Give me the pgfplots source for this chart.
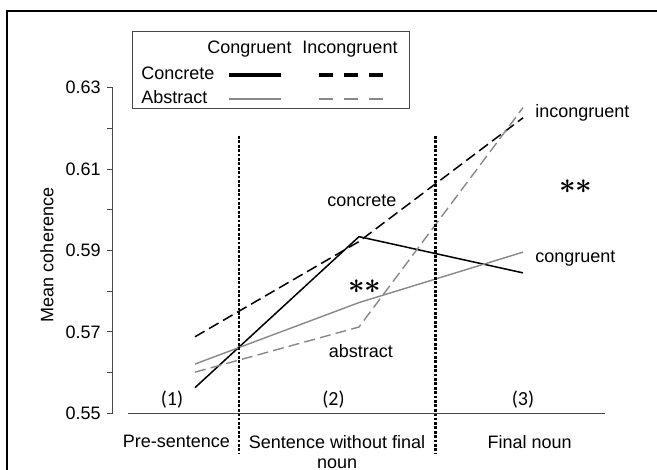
\documentclass[border=0pt]{standalone}
\usepackage{pgfplots}
\pgfplotsset{compat=1.18}
\usepackage{fontspec}
\setmainfont{Liberation Sans}
\newfontfamily\calib{Carlito}
\definecolor{gr}{RGB}{136,136,136}
\definecolor{axc}{RGB}{70,70,70}
\DeclareRobustCommand{\stars}{{\fontsize{14}{16}\selectfont\boldmath$\ast\ast$}}
\begin{document}
\fontsize{9}{11}\selectfont
\begin{tikzpicture}
\begin{axis}[
  scale only axis, width=246pt, height=162.8pt,
  xmin=0.5, xmax=3.5, ymin=0.55, ymax=0.63,
  axis x line=none, axis y line*=left,
  axis line style={-, axc, line width=0.5pt},
  ytick={0.55,0.57,0.59,0.61,0.63},
  minor ytick={0.56,0.58,0.60,0.62},
  tick align=outside, major tick length=3pt, minor tick length=3pt,
  every tick/.style={axc, line width=0.5pt},
  yticklabel style={/pgf/number format/.cd, fixed, fixed zerofill, precision=2, assume math mode=true},
  clip=false,
]
% data
\addplot[black, line width=0.75pt] coordinates {(1,0.5563) (2,0.5934) (3,0.5845)};
\addplot[black, line width=0.75pt, dash pattern=on 5.5pt off 2.6pt] coordinates {(1,0.5688) (2,0.5922) (3,0.6226)};
\addplot[gr, line width=0.7pt] coordinates {(1,0.5621) (2,0.5772) (3,0.5896)};
\addplot[gr, line width=0.7pt, dash pattern=on 5.5pt off 2.6pt] coordinates {(1,0.5601) (2,0.5712) (3,0.6251)};
% dividers
\addplot[black, line width=1.45pt, dash pattern=on 1.35pt off 0.85pt] coordinates {(1.268,0.61813) (1.268,0.54025)};
\addplot[black, line width=1.45pt, dash pattern=on 1.35pt off 0.85pt] coordinates {(2.4665,0.61813) (2.4665,0.54025)};
% x axis line
\draw[axc, line width=0.5pt] (axis cs:0.5915,0.55) -- (axis cs:3.5,0.55);
% annotations
\node at (axis cs:2.018,0.6022) {concrete};
\node at (axis cs:2.012,0.5653) {abstract};
\node at (axis cs:2.034,0.5811) {\stars};
\node at (axis cs:3.323,0.6056) {\stars};
\node[anchor=west, inner sep=0pt] at (axis cs:3.073,0.6238) {incongruent};
\node[anchor=west, inner sep=0pt] at (axis cs:3.073,0.5879) {congruent};
\node at (axis cs:0.860,0.55327) {\calib\fontsize{10}{12}\selectfont (1)};
\node at (axis cs:1.8445,0.55327) {\calib\fontsize{10}{12}\selectfont (2)};
\node at (axis cs:3.0,0.55327) {\calib\fontsize{10}{12}\selectfont (3)};
\node at (axis cs:0.887,0.54302) {Pre-sentence};
\node at (axis cs:1.866,0.54302) {Sentence without final};
\node at (axis cs:1.866,0.5376) {noun};
\node at (axis cs:3.040,0.54302) {Final noun};
\node[rotate=90] at (axis cs:0.0976,0.5889) {Mean coherence};
% legend
\draw[axc, line width=0.5pt] (axis cs:0.6159,0.64369) rectangle (axis cs:2.3049,0.62477);
\node at (axis cs:1.3323,0.63951) {Congruent};
\node at (axis cs:1.9451,0.63951) {Incongruent};
\node[anchor=west, inner sep=0pt] at (axis cs:0.6707,0.63361) {Concrete};
\node[anchor=west, inner sep=0pt] at (axis cs:0.6707,0.62772) {Abstract};
\draw[black, line width=1.7pt] (axis cs:1.2073,0.63312) -- (axis cs:1.5244,0.63312);
\draw[black, line width=1.7pt, dash pattern=on 7pt off 5.5pt] (axis cs:1.7561,0.63312) -- (axis cs:2.1463,0.63312);
\draw[gr, line width=1.4pt] (axis cs:1.2073,0.62722) -- (axis cs:1.5244,0.62722);
\draw[gr, line width=1.4pt, dash pattern=on 7pt off 5.5pt] (axis cs:1.7561,0.62722) -- (axis cs:2.1463,0.62722);
% frame
\draw[black, line width=0.55pt] (axis cs:-0.14634,0.5300) -- (axis cs:-0.14634,0.64885) -- (axis cs:3.9,0.64885);
\coordinate (BL) at (axis cs:-0.18902,0.53607);
\coordinate (TR) at (axis cs:3.81707,0.65155);
\end{axis}
\pgfresetboundingbox
\useasboundingbox (BL) rectangle (TR);
\end{tikzpicture}
\end{document}
